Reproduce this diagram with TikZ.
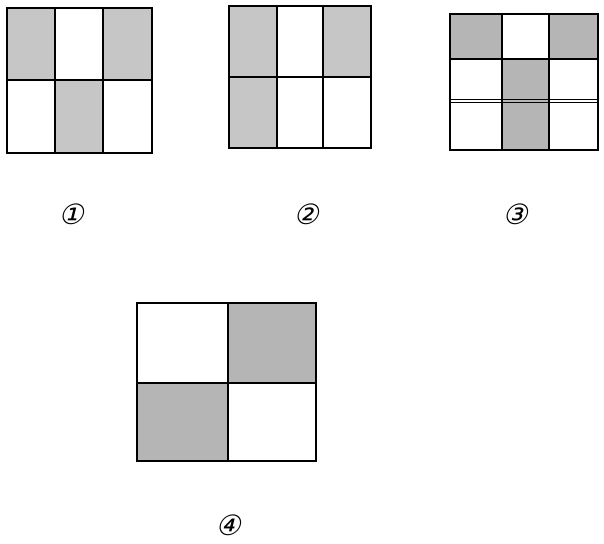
\documentclass[tikz,border=0pt]{standalone}
\usepackage{fontspec}
\newfontfamily\circfont[FakeSlant=0.25]{DejaVu Sans}
\begin{document}
\begin{tikzpicture}[x=1pt,y=-1pt,
  grid/.style={line width=1.4pt,black},
  shadeA/.style={fill=gray!45},
  shadeB/.style={fill=gray!58},
  lab/.style={font=\circfont\fontsize{28}{28}\selectfont,inner sep=0pt}]
\useasboundingbox[fill=white] (0,0) rectangle (604,543);
% figure 1
\fill[shadeA] (7,8) rectangle (55,80);
\fill[shadeA] (103,8) rectangle (152,80);
\fill[shadeA] (55,80) rectangle (103,153);
\draw[grid] (7,8) rectangle (152,153);
\draw[grid] (55,8) -- (55,153) (103,8) -- (103,153) (7,80) -- (152,80);
% figure 2
\fill[shadeA] (229,6) rectangle (277,77);
\fill[shadeA] (323,6) rectangle (371,77);
\fill[shadeA] (229,77) rectangle (277,148);
\draw[grid] (229,6) rectangle (371,148);
\draw[grid] (277,6) -- (277,148) (323,6) -- (323,148) (229,77) -- (371,77);
% figure 3
\fill[shadeB] (450,14) rectangle (502,59);
\fill[shadeB] (549,14) rectangle (598,59);
\fill[shadeB] (502,59) rectangle (549,150);
\draw[grid] (450,14) rectangle (598,150);
\draw[grid] (502,14) -- (502,150) (549,14) -- (549,150) (450,59) -- (598,59);
\draw[grid,line width=1pt] (450,99) -- (598,99) (450,102) -- (598,102);
% figure 4
\fill[shadeB] (228,303) rectangle (316,383);
\fill[shadeB] (137,383) rectangle (228,461);
\draw[grid] (137,303) rectangle (316,461);
\draw[grid] (228,303) -- (228,461) (137,383) -- (316,383);
% labels
\node[lab] (l1) at (71,214) {①};
\node[lab] (l2) at (306,214) {②};
\node[lab] (l3) at (515,214) {③};
\node[lab] (l4) at (228,525) {④};
\end{tikzpicture}
\end{document}
